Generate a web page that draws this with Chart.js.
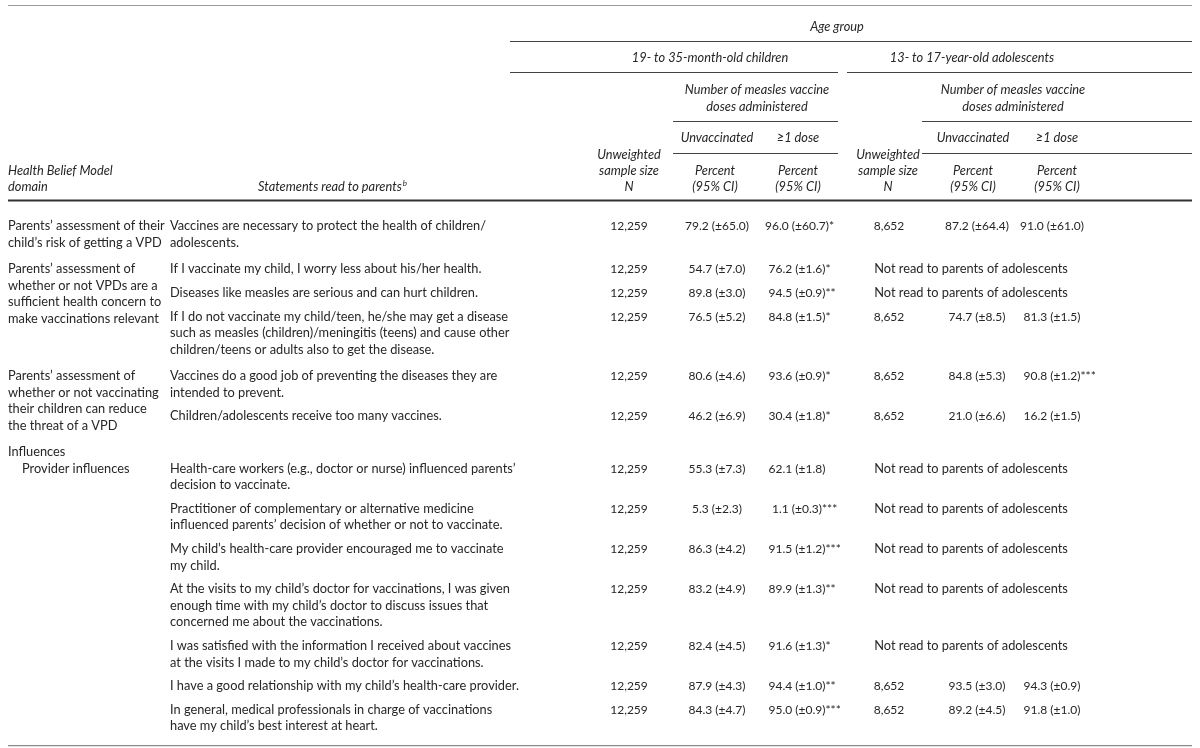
<!DOCTYPE html>
<html>
<head>
<meta charset="utf-8">
<script src="https://cdn.jsdelivr.net/npm/chart.js@4.4.1/dist/chart.umd.min.js"></script>
<style>
  html, body { margin: 0; padding: 0; background: #fff; }
  #wrap { width: 1200px; height: 748px; }
</style>
</head>
<body>
<div id="wrap"><canvas id="tabela" width="1200" height="748"></canvas></div>
<script>
// -------------------- DADOS --------------------
const domainLabels = [
  ['Parents’ assessment of their', 'child’s risk of getting a VPD'],
  ['Parents’ assessment of', 'whether or not VPDs are a', 'sufficient health concern to', 'make vaccinations relevant'],
  ['Parents’ assessment of', 'whether or not vaccinating', 'their children can reduce', 'the threat of a VPD'],
  ['Influences', 'Provider influences']
];
const domainIndent = [[0, 0], [0, 0, 0, 0], [0, 0, 0, 0], [0, 1]];
const domainLead = [0, 0, 0, 1];
const rowDomain = [0, 1, 1, 1, 2, 2, 3, 3, 3, 3, 3, 3, 3];

const statements = [
  ['Vaccines are necessary to protect the health of children/', 'adolescents.'],
  ['If I vaccinate my child, I worry less about his/her health.'],
  ['Diseases like measles are serious and can hurt children.'],
  ['If I do not vaccinate my child/teen, he/she may get a disease', 'such as measles (children)/meningitis (teens) and cause other', 'children/teens or adults also to get the disease.'],
  ['Vaccines do a good job of preventing the diseases they are', 'intended to prevent.'],
  ['Children/adolescents receive too many vaccines.'],
  ['Health-care workers (e.g., doctor or nurse) influenced parents’', 'decision to vaccinate.'],
  ['Practitioner of complementary or alternative medicine', 'influenced parents’ decision of whether or not to vaccinate.'],
  ['My child’s health-care provider encouraged me to vaccinate', 'my child.'],
  ['At the visits to my child’s doctor for vaccinations, I was given', 'enough time with my child’s doctor to discuss issues that', 'concerned me about the vaccinations.'],
  ['I was satisfied with the information I received about vaccines', 'at the visits I made to my child’s doctor for vaccinations.'],
  ['I have a good relationship with my child’s health-care provider.'],
  ['In general, medical professionals in charge of vaccinations', 'have my child’s best interest at heart.']
];

const childN        = [12259, 12259, 12259, 12259, 12259, 12259, 12259, 12259, 12259, 12259, 12259, 12259, 12259];
const childUnvacc   = [79.2, 54.7, 89.8, 76.5, 80.6, 46.2, 55.3, 5.3, 86.3, 83.2, 82.4, 87.9, 84.3];
const childUnvaccCI = [65.0, 7.0, 3.0, 5.2, 4.6, 6.9, 7.3, 2.3, 4.2, 4.9, 4.5, 4.3, 4.7];
const childDose     = [96.0, 76.2, 94.5, 84.8, 93.6, 30.4, 62.1, 1.1, 91.5, 89.9, 91.6, 94.4, 95.0];
const childDoseCI   = [60.7, 1.6, 0.9, 1.5, 0.9, 1.8, 1.8, 0.3, 1.2, 1.3, 1.3, 1.0, 0.9];
const childDoseSig  = ['*', '*', '**', '*', '*', '*', '', '***', '***', '**', '*', '**', '***'];

const adolN         = [8652, null, null, 8652, 8652, 8652, null, null, null, null, null, 8652, 8652];
const adolUnvacc    = [87.2, null, null, 74.7, 84.8, 21.0, null, null, null, null, null, 93.5, 89.2];
const adolUnvaccCI  = [64.4, null, null, 8.5, 5.3, 6.6, null, null, null, null, null, 3.0, 4.5];
const adolDose      = [91.0, null, null, 81.3, 90.8, 16.2, null, null, null, null, null, 94.3, 91.8];
const adolDoseCI    = [61.0, null, null, 1.5, 1.2, 1.5, null, null, null, null, null, 0.9, 1.0];
const adolDoseSig   = ['', null, null, '', '***', '', null, null, null, null, null, '', ''];
const notReadText = 'Not read to parents of adolescents';

const headerAge = 'Age group';
const ageGroups = ['19- to 35-month-old children', '13- to 17-year-old adolescents'];
const dosesHeader = ['Number of measles vaccine', 'doses administered'];
const doseGroups = ['Unvaccinated', '≥1 dose'];
const sampleHeader = ['Unweighted', 'sample size', 'N'];
const percentHeader = ['Percent', '(95% CI)'];
const domainHeader = ['Health Belief Model', 'domain'];
const statementHeader = 'Statements read to parents';
const statementNote = 'b';

// -------------------- LAYOUT --------------------
const FONT = 'Lato, "Open Sans", sans-serif';
const FS_TEXT = 12.8;
const FS_NUM = 12;
const FS_HEAD = 12.8;
const TEXT = '#262626';
const LINE = 16.5;
const ROW_GAP = 7.2;
const GROUP_GAP = 10;
const BODY_TOP = 218;
const INDENT = 14;
const COL = {
  left: 8, right: 1192, stmt: 170, stmtHead: 258,
  childN: 629, childUnv: 717, childDose: 797,
  adolN: 889, adolUnv: 977, adolDose: 1052, notRead: 971,
  childSpan: [510, 838], adolSpan: [847, 1192],
  childDoseSpan: [673, 838], adolDoseSpan: [922, 1192]
};

function layoutRows() {
  const rowY = [];
  const domainY = [];
  let y = BODY_TOP;
  let g = -1;
  let groupEnd = 0;
  statements.forEach((lines, i) => {
    if (rowDomain[i] !== g) {
      if (g >= 0) y = Math.max(y - ROW_GAP, groupEnd) + GROUP_GAP;
      g = rowDomain[i];
      domainY[g] = y;
      groupEnd = y + domainLabels[g].length * LINE;
      y += domainLead[g] * LINE;
    }
    rowY[i] = y;
    y += lines.length * LINE + ROW_GAP;
  });
  return { rowY, domainY, end: Math.max(y - ROW_GAP, groupEnd) };
}
const L = layoutRows();
const mid = top => top + LINE / 2;
const fmtVal = (v, ci) => `${v.toFixed(1)} (±${ci.toFixed(1)})`;

// -------------------- DATASETS --------------------
function textSet(points, align, size) {
  return {
    data: points.map(p => ({ x: p.x, y: p.y })),
    cellText: points.map(p => p.text),
    cellSuffix: points.map(p => p.suffix || ''),
    cellAlign: align,
    cellSize: size,
    pointRadius: 0
  };
}

const domainPts = [];
domainLabels.forEach((lines, g) => {
  lines.forEach((t, k) => domainPts.push({ x: COL.left + domainIndent[g][k] * INDENT, y: mid(L.domainY[g] + k * LINE), text: t }));
});
const stmtPts = [];
statements.forEach((lines, i) => {
  lines.forEach((t, k) => stmtPts.push({ x: COL.stmt, y: mid(L.rowY[i] + k * LINE), text: t }));
});
const rowsIdx = statements.map((_, i) => i);
const withAdol = rowsIdx.filter(i => adolN[i] !== null);
const withoutAdol = rowsIdx.filter(i => adolN[i] === null);

const datasets = [
  textSet(domainPts, 'left', FS_TEXT),
  textSet(stmtPts, 'left', FS_TEXT),
  textSet(rowsIdx.map(i => ({ x: COL.childN, y: mid(L.rowY[i]), text: childN[i].toLocaleString('en-US') })), 'center', FS_NUM),
  textSet(rowsIdx.map(i => ({ x: COL.childUnv, y: mid(L.rowY[i]), text: fmtVal(childUnvacc[i], childUnvaccCI[i]) })), 'center', FS_NUM),
  textSet(rowsIdx.map(i => ({ x: COL.childDose, y: mid(L.rowY[i]), text: fmtVal(childDose[i], childDoseCI[i]), suffix: childDoseSig[i] })), 'center', FS_NUM),
  textSet(withAdol.map(i => ({ x: COL.adolN, y: mid(L.rowY[i]), text: adolN[i].toLocaleString('en-US') })), 'center', FS_NUM),
  textSet(withAdol.map(i => ({ x: COL.adolUnv, y: mid(L.rowY[i]), text: fmtVal(adolUnvacc[i], adolUnvaccCI[i]) })), 'center', FS_NUM),
  textSet(withAdol.map(i => ({ x: COL.adolDose, y: mid(L.rowY[i]), text: fmtVal(adolDose[i], adolDoseCI[i]), suffix: adolDoseSig[i] })), 'center', FS_NUM),
  textSet(withoutAdol.map(i => ({ x: COL.notRead, y: mid(L.rowY[i]), text: notReadText })), 'center', FS_TEXT)
];

// -------------------- PLUGIN DA TABELA --------------------
const tablePlugin = {
  id: 'tablePlugin',
  afterDatasetsDraw(chart) {
    const ctx = chart.ctx;
    const sx = chart.scales.x;
    const sy = chart.scales.y;
    const X = v => sx.getPixelForValue(v);
    const Y = v => sy.getPixelForValue(v);

    ctx.save();
    ctx.textBaseline = 'middle';
    ctx.fillStyle = TEXT;

    // corpo
    chart.data.datasets.forEach((ds, di) => {
      ctx.font = `${ds.cellSize}px ${FONT}`;
      const meta = chart.getDatasetMeta(di);
      meta.data.forEach((pt, j) => {
        const txt = ds.cellText[j];
        ctx.textAlign = ds.cellAlign;
        ctx.fillText(txt, pt.x, pt.y);
        if (ds.cellSuffix[j]) {
          const w = ctx.measureText(txt).width;
          ctx.textAlign = 'left';
          ctx.fillText(ds.cellSuffix[j], pt.x + w / 2, pt.y);
        }
      });
    });

    // cabeçalho
    ctx.font = `italic ${FS_HEAD}px ${FONT}`;
    const put = (t, x, y, align) => { ctx.textAlign = align || 'center'; ctx.fillText(t, X(x), Y(y)); };
    put(headerAge, 837, 27);
    put(ageGroups[0], 710, 58);
    put(ageGroups[1], 972, 58);
    dosesHeader.forEach((t, k) => { put(t, 757, 90 + k * 16.5); put(t, 1013, 90 + k * 16.5); });
    put(doseGroups[0], 717, 138); put(doseGroups[1], 798, 138);
    put(doseGroups[0], 973, 138); put(doseGroups[1], 1057, 138);
    sampleHeader.forEach((t, k) => { put(t, COL.childN, 155 + k * 16); put(t, 888, 155 + k * 16); });
    percentHeader.forEach((t, k) => {
      put(t, 715, 171 + k * 16); put(t, 798, 171 + k * 16);
      put(t, 973, 171 + k * 16); put(t, 1057, 171 + k * 16);
    });
    domainHeader.forEach((t, k) => put(t, COL.left, 171 + k * 16, 'left'));
    put(statementHeader, COL.stmtHead, 187, 'left');
    const sw = ctx.measureText(statementHeader).width;
    ctx.font = `italic 8px ${FONT}`;
    ctx.fillText(statementNote, X(COL.stmtHead) + sw + 1, Y(183));

    // linhas
    const rule = (x0, x1, y, w, c) => {
      ctx.beginPath();
      ctx.lineWidth = w;
      ctx.strokeStyle = c;
      ctx.moveTo(X(x0), Y(y));
      ctx.lineTo(X(x1), Y(y));
      ctx.stroke();
    };
    rule(COL.left, COL.right, 5.5, 1.2, '#9a9a9a');
    rule(COL.childSpan[0], COL.right, 41.5, 1, '#444');
    rule(COL.childSpan[0], COL.childSpan[1], 72.5, 1, '#444');
    rule(COL.adolSpan[0], COL.adolSpan[1], 72.5, 1, '#444');
    [121.5, 153.5].forEach(y => {
      rule(COL.childDoseSpan[0], COL.childDoseSpan[1], y, 1, '#444');
      rule(COL.adolDoseSpan[0], COL.adolDoseSpan[1], y, 1, '#444');
    });
    rule(COL.left, COL.right, 200.5, 2, '#333');
    rule(COL.left, COL.right, L.end + 11, 1.4, '#8a8a8a');
    ctx.restore();
  }
};

// -------------------- GRÁFICO --------------------
const ctx = document.getElementById('tabela').getContext('2d');
new Chart(ctx, {
  type: 'scatter',
  data: { datasets: datasets },
  options: {
    responsive: false,
    animation: false,
    events: [],
    layout: { padding: 0 },
    plugins: { legend: { display: false }, tooltip: { enabled: false } },
    scales: {
      x: { type: 'linear', min: 0, max: 1200, display: false },
      y: { type: 'linear', min: 0, max: 748, reverse: true, display: false }
    }
  },
  plugins: [tablePlugin]
});
</script>
</body>
</html>
